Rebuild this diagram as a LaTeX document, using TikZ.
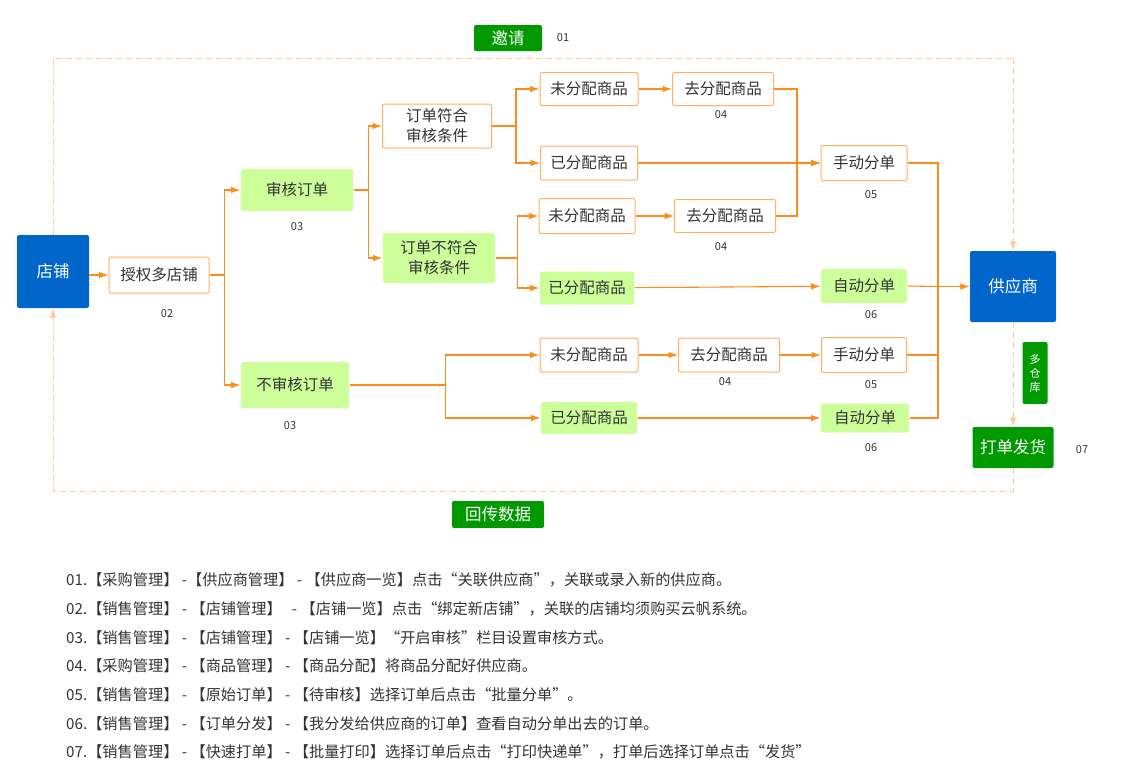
\documentclass[tikz,border=0pt]{standalone}
\usepackage{fontspec}
\setmainfont{Noto Sans CJK SC}
\usetikzlibrary{arrows.meta}
\definecolor{shopblue}{RGB}{0,102,204}
\definecolor{lightgreen}{RGB}{204,255,153}
\definecolor{darkgreen}{RGB}{0,153,0}
\definecolor{lineorange}{RGB}{255,140,26}
\definecolor{boxorange}{RGB}{255,176,102}
\definecolor{dashorange}{RGB}{255,204,153}
\definecolor{textgray}{RGB}{51,51,51}
\begin{document}
\begin{tikzpicture}[x=1pt, y=-1pt, >={Latex[length=9.5pt,width=6.5pt]},
  wbox/.style={draw=boxorange, line width=1pt, fill=white, rounded corners=2pt, inner sep=0pt,
    text=textgray, font=\fontsize{15.5}{20}\selectfont, align=center},
  gbox/.style={wbox, draw=none, fill=lightgreen},
  bbox/.style={draw=none, fill=shopblue, rounded corners=2pt, inner sep=0pt, text=white,
    font=\fontsize{16.5}{20}\selectfont},
  dgbox/.style={bbox, fill=darkgreen},
  num/.style={text=textgray, font=\fontsize{11}{13}\selectfont},
  link/.style={draw=lineorange, line width=1.1pt},
  back/.style={draw=dashorange, line width=1pt, dash pattern=on 6pt off 4pt},
  legend/.style={anchor=west, inner sep=0pt, text=textgray, font=\fontsize{15.2}{18}\selectfont}]
\useasboundingbox (0,0) rectangle (1135,780);

% left side
\node[bbox, minimum width=72, minimum height=73] (shop) at (53,271.5) {店铺};
\node[wbox, minimum width=100, minimum height=36] (auth) at (159,275) {授权多店铺};
\node[num] (n02) at (167,314) {02};
\node[gbox, minimum width=112, minimum height=42] (audit) at (297,190) {审核订单};
\node[num] (n03a) at (297,227) {03};
\node[gbox, minimum width=108, minimum height=46] (noaudit) at (295,385) {不审核订单};
\node[num] (n03b) at (290,426) {03};
\node[wbox, minimum width=109, minimum height=44] (fit) at (437,126) {订单符合\\审核条件};
\node[gbox, minimum width=112, minimum height=50] (unfit) at (439,258) {订单不符合\\审核条件};

% goods rows
\node[wbox, minimum width=98, minimum height=33] (free1) at (589,89) {未分配商品};
\node[wbox, minimum width=97, minimum height=34] (done1) at (589,163) {已分配商品};
\node[wbox, minimum width=101, minimum height=33] (assign1) at (723,89) {去分配商品};
\node[num] (n04a) at (721,115) {04};
\node[wbox, minimum width=96, minimum height=35] (free2) at (587,216) {未分配商品};
\node[wbox, minimum width=101, minimum height=33] (assign2) at (725,216) {去分配商品};
\node[num] (n04b) at (721,247) {04};
\node[gbox, minimum width=94, minimum height=33] (done2) at (587,288) {已分配商品};
\node[wbox, minimum width=98, minimum height=34] (free3) at (589,355) {未分配商品};
\node[wbox, minimum width=101, minimum height=34] (assign3) at (729,355) {去分配商品};
\node[num] (n04c) at (725,382) {04};
\node[gbox, minimum width=96, minimum height=32] (done3) at (589,418) {已分配商品};

% split orders
\node[wbox, minimum width=86, minimum height=35] (manual1) at (864,163) {手动分单};
\node[num] (n05a) at (871,195) {05};
\node[gbox, minimum width=86, minimum height=34] (auto1) at (864,286) {自动分单};
\node[num] (n06a) at (871,315) {06};
\node[wbox, minimum width=85, minimum height=35] (manual3) at (864,355) {手动分单};
\node[num] (n05b) at (871,385) {05};
\node[gbox, minimum width=88, minimum height=29] (auto3) at (865,418) {自动分单};
\node[num] (n06b) at (871,448) {06};

% right side
\node[bbox, minimum width=86, minimum height=71] (supplier) at (1013,286.5) {供应商};
\node[dgbox, minimum width=25, minimum height=62, align=center,
  font=\fontsize{11}{14}\selectfont] (store) at (1035,373) {多\\仓\\库};
\node[dgbox, minimum width=81, minimum height=41] (ship) at (1013,447.5) {打单发货};
\node[num] (n07) at (1082,450) {07};
\node[dgbox, minimum width=68, minimum height=26] (invite) at (508,38) {邀请};
\node[num] (n01) at (563,38) {01};
\node[dgbox, minimum width=92, minimum height=27] (feedback) at (498,514.5) {回传数据};

% solid links
\draw[link,->] (shop.east |- auth.west) -- (auth.west);
\draw[link,->] (auth.east) -- ++(15,0) |- (audit.west);
\draw[link,->] (auth.east) -- ++(15,0) |- (noaudit.west);
\draw[link,->] (audit.east) -- ++(15,0) |- (fit.west);
\draw[link,->] (audit.east) -- ++(15,0) |- (unfit.west);
\draw[link,->] (fit.east) -- ++(24,0) |- (free1.west);
\draw[link,->] (fit.east) -- ++(24,0) |- (done1.west);
\draw[link,->] (unfit.east) -- ++(22,0) |- (free2.west);
\draw[link,->] (unfit.east) -- ++(22,0) |- (done2.west);
\draw[link,->] (noaudit.east) -- ++(96,0) |- (free3.west);
\draw[link,->] (noaudit.east) -- ++(96,0) |- (done3.west);
\draw[link,->] (free1) -- (assign1);
\draw[link,->] (free2) -- (assign2);
\draw[link,->] (free3) -- (assign3);
\draw[link,->] (assign3) -- (manual3);
\draw[link,->] (done1) -- (manual1);
\draw[link,->] (assign1.east) -- ++(23,0) |- (manual1.west);
\draw[link,->] (assign2.east) -- ++(21,0) |- (manual1.west);
\draw[link,->] (done2) -- (auto1);
\draw[link,->] (done3) -- (auto3);
\coordinate (merge) at (938,286.5);
\draw[link] (manual1.east) -| (merge);
\draw[link] (auto1.east) -- (merge);
\draw[link] (manual3.east) -| (merge);
\draw[link] (auto3.east) -| (merge);
\draw[link,->] (merge) -- (supplier.west);

% dashed loop
\coordinate (tl) at (53,58);
\coordinate (tr) at (1013,58);
\coordinate (br) at (1013,491);
\coordinate (bl) at (53,491);
\draw[back] (shop.north) -- (tl) -- (tr);
\draw[back,->] (tr) -- (supplier.north);
\draw[back,->] (supplier.south) -- (ship.north);
\draw[back] (ship.south) -- (br) -- (bl);
\draw[back,->] (bl) -- (shop.south);

% legend
\foreach \txt [count=\i] in {
  {01.【采购管理】 -【供应商管理】 - 【供应商一览】点击“关联供应商”，关联或录入新的供应商。},
  {02.【销售管理】 - 【店铺管理】 \ \ - 【店铺一览】点击“绑定新店铺”，关联的店铺均须购买云帆系统。},
  {03.【销售管理】 - 【店铺管理】 - 【店铺一览】“开启审核”栏目设置审核方式。},
  {04.【采购管理】 - 【商品管理】 - 【商品分配】将商品分配好供应商。},
  {05.【销售管理】 - 【原始订单】 - 【待审核】选择订单后点击“批量分单”。},
  {06.【销售管理】 - 【订单分发】 - 【我分发给供应商的订单】查看自动分单出去的订单。},
  {07.【销售管理】 - 【快速打单】 - 【批量打印】选择订单后点击“打印快递单”，打单后选择订单点击“发货”}}
  \node[legend] (leg\i) at (66,{580+(\i-1)*28.7}) {\txt};
\end{tikzpicture}
\end{document}
